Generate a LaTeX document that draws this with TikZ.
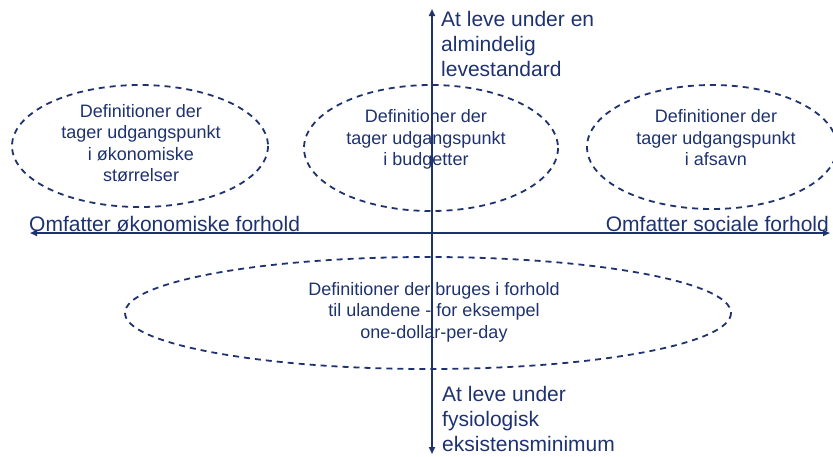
\documentclass[tikz,border=0pt]{standalone}
\usepackage{fontspec}
\setmainfont{Liberation Sans}
\usetikzlibrary{arrows.meta}
\definecolor{navy}{RGB}{30,50,112}

\begin{document}
\begin{tikzpicture}[x=1pt, y=-1pt, >={Triangle[length=7pt,width=6pt]},
    every node/.style = {text=navy, inner sep=0pt},
    small/.style = {align=center, anchor=north,
        font=\fontsize{18}{21.5}\selectfont},
    big/.style = {align=left, font=\fontsize{21}{25}\selectfont},
    ring/.style = {draw=navy, line width=1.8pt, dash pattern=on 6pt off 5pt},
    axis/.style = {draw=navy, line width=1.8pt, <->}]
    \useasboundingbox (0, 0) rectangle (833, 456);
    \draw[ring] (140, 146) ellipse [x radius=128, y radius=61];
    \draw[ring] (431, 148) ellipse [x radius=127, y radius=63];
    \draw[ring] (712, 147) ellipse [x radius=125, y radius=62];
    \draw[ring] (428, 313) ellipse [x radius=303, y radius=56];
    \node[small] (money) at (141, 104) {Definitioner der\\tager udgangspunkt\\i økonomiske\\størrelser};
    \node[small] (budget) at (426, 109.5) {Definitioner der\\tager udgangspunkt\\i budgetter};
    \node[small] (lack) at (716, 109.5) {Definitioner der\\tager udgangspunkt\\i afsavn};
    \node[small] (poor) at (434, 282) {Definitioner der bruges i forhold\\til ulandene - for eksempel\\one-dollar-per-day};
    \node[big, anchor=north west] (up) at (441, 11.5) {At leve under en\\almindelig\\levestandard};
    \node[big, anchor=north west] (down) at (442, 386) {At leve under\\fysiologisk\\eksistensminimum};
    \node[big, anchor=base west] (econ) at (29, 231) {Omfatter økonomiske forhold};
    \node[big, anchor=base east] (social) at (829, 231) {Omfatter sociale forhold};
    \coordinate (top) at (432, 9);
    \coordinate (bottom) at (432, 454);
    \coordinate (left) at (30, 233);
    \coordinate (right) at (830, 233);
    \draw[axis] (bottom) -- (top);
    \draw[axis] (left) -- (right);
\end{tikzpicture}
\end{document}
